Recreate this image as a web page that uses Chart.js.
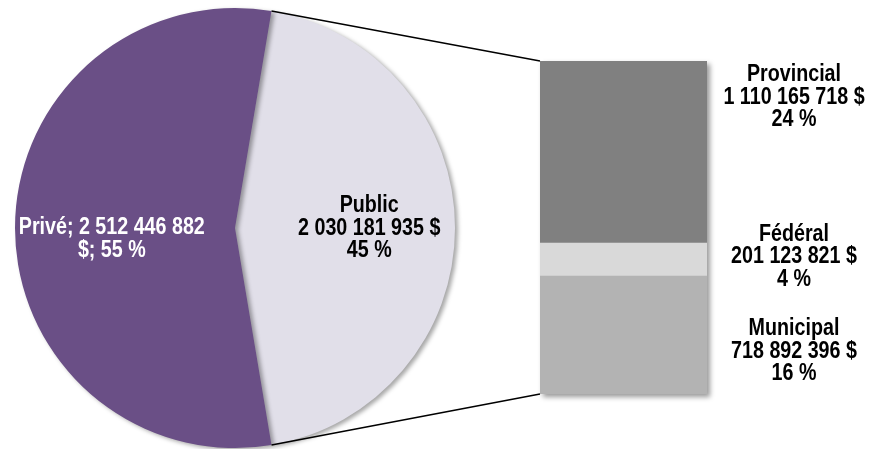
<!DOCTYPE html>
<html>
<head>
<meta charset="utf-8">
<script src="https://cdn.jsdelivr.net/npm/chart.js@4/dist/chart.umd.min.js"></script>
<style>
  body { margin: 0; background: #fff; }
  #wrap { position: relative; width: 870px; height: 449px; }
  canvas { position: absolute; left: 0; top: 0; }
</style>
</head>
<body>
<div id="wrap">
  <canvas id="pie" width="870" height="449"></canvas>
  <canvas id="bar" width="870" height="449"></canvas>
</div>
<script>
// data
const pieLabels = ['Public', 'Privé'];
const pieValues = [2030181935, 2512446882];
const barLabels = ['Municipal', 'Fédéral', 'Provincial'];
const barValues = [718892396, 201123821, 1110165718];

const pieColors = ['#e1dfe9', '#6a4f86'];
const barColors = ['#b3b3b3', '#d9d9d9', '#808080'];
// no narrow font installed -> squeeze Liberation Sans bold horizontally
const FONT = 'bold 24px "Liberation Sans", Arial, sans-serif';
const SQUEEZE = 0.82;
const LINE_H = 22.5;

const grandTotal = pieValues.reduce((a, b) => a + b, 0);
const publicTotal = barValues.reduce((a, b) => a + b, 0);

function fmt(n) {
  return String(n).replace(/\B(?=(\d{3})+(?!\d))/g, ' ');
}
function pct(n) {
  return Math.round(n / grandTotal * 100) + ' %';
}

function drawBlock(ctx, lines, x, y, color) {
  ctx.save();
  ctx.font = FONT;
  ctx.fillStyle = color;
  ctx.textAlign = 'center';
  ctx.textBaseline = 'middle';
  ctx.translate(x, 0);
  ctx.scale(SQUEEZE, 1);
  const y0 = y - (lines.length - 1) * LINE_H / 2;
  lines.forEach((t, i) => ctx.fillText(t, 0, y0 + i * LINE_H));
  ctx.restore();
}

// pie: public slice centred on the right side
const pubFrac = pieValues[0] / grandTotal;
const pieRotation = 90 - pubFrac * 180;

const pieShadow = {
  id: 'pieShadow',
  beforeDatasetDraw(chart) {
    const ctx = chart.ctx;
    ctx.save();
    ctx.shadowColor = 'rgba(0,0,0,0.35)';
    ctx.shadowBlur = 4;
    ctx.shadowOffsetX = 3;
    ctx.shadowOffsetY = 2;
  },
  afterDatasetDraw(chart) {
    chart.ctx.restore();
  }
};

const pieText = {
  id: 'pieText',
  afterDatasetsDraw(chart) {
    const ctx = chart.ctx;
    const arcs = chart.getDatasetMeta(0).data;
    const k = [0.61, 0.56];
    const dy = [0, 11];
    arcs.forEach((arc, i) => {
      const mid = (arc.startAngle + arc.endAngle) / 2;
      const x = arc.x + Math.cos(mid) * arc.outerRadius * k[i];
      const y = arc.y + Math.sin(mid) * arc.outerRadius * k[i] + dy[i];
      let lines;
      if (i === 0) lines = [pieLabels[i], fmt(pieValues[i]) + ' $', pct(pieValues[i])];
      else lines = [pieLabels[i] + '; ' + fmt(pieValues[i]), '$; ' + pct(pieValues[i])];
      drawBlock(ctx, lines, x, y, i === 0 ? '#000' : '#fff');
    });
  }
};

const pieChart = new Chart(document.getElementById('pie'), {
  type: 'pie',
  data: {
    labels: pieLabels,
    datasets: [{
      data: pieValues,
      backgroundColor: pieColors,
      borderWidth: 0
    }]
  },
  options: {
    responsive: false,
    animation: false,
    rotation: pieRotation,
    layout: { padding: { left: 15, top: 8, right: 415, bottom: 1 } },
    plugins: { legend: { display: false }, tooltip: { enabled: false } }
  },
  plugins: [pieShadow, pieText]
});

// stacked bar for the public part
const barShadow = {
  id: 'barShadow',
  beforeDatasetsDraw(chart) {
    const bottom = chart.getDatasetMeta(0).data[0];
    const top = chart.getDatasetMeta(barValues.length - 1).data[0];
    const ctx = chart.ctx;
    ctx.save();
    ctx.shadowColor = 'rgba(0,0,0,0.4)';
    ctx.shadowBlur = 5;
    ctx.shadowOffsetX = 3;
    ctx.shadowOffsetY = 3;
    ctx.fillStyle = '#aaa';
    ctx.fillRect(bottom.x - bottom.width / 2, top.y, bottom.width, bottom.base - top.y);
    ctx.restore();
  }
};

const barText = {
  id: 'barText',
  afterDraw(chart) {
    const ctx = chart.ctx;
    const shift = [16, -3, null];
    barLabels.forEach((name, i) => {
      const el = chart.getDatasetMeta(i).data[0];
      let y = (el.y + el.base) / 2 + (shift[i] || 0);
      if (shift[i] === null) y = el.y + 36;
      drawBlock(ctx, [name, fmt(barValues[i]) + ' $', pct(barValues[i])], chart.chartArea.right + 87, y, '#000');
    });

    // connector lines from the pie slice to the bar
    const arc = pieChart.getDatasetMeta(0).data[0];
    const first = chart.getDatasetMeta(0).data[0];
    const last = chart.getDatasetMeta(barValues.length - 1).data[0];
    const left = first.x - first.width / 2;
    ctx.save();
    ctx.strokeStyle = '#000';
    ctx.lineWidth = 1.5;
    ctx.beginPath();
    ctx.moveTo(arc.x + Math.cos(arc.startAngle) * arc.outerRadius, arc.y + Math.sin(arc.startAngle) * arc.outerRadius);
    ctx.lineTo(left, last.y);
    ctx.moveTo(arc.x + Math.cos(arc.endAngle) * arc.outerRadius, arc.y + Math.sin(arc.endAngle) * arc.outerRadius);
    ctx.lineTo(left, first.base);
    ctx.stroke();
    ctx.restore();
  }
};

new Chart(document.getElementById('bar'), {
  type: 'bar',
  data: {
    labels: ['Public'],
    datasets: barLabels.map((name, i) => ({
      label: name,
      data: [barValues[i]],
      backgroundColor: barColors[i],
      borderWidth: 0,
      barPercentage: 1,
      categoryPercentage: 1
    }))
  },
  options: {
    responsive: false,
    animation: false,
    layout: { padding: { left: 540, top: 61, right: 163, bottom: 55 } },
    scales: {
      x: { stacked: true, display: false },
      y: { stacked: true, display: false, min: 0, max: publicTotal }
    },
    plugins: { legend: { display: false }, tooltip: { enabled: false } }
  },
  plugins: [barShadow, barText]
});
</script>
</body>
</html>
